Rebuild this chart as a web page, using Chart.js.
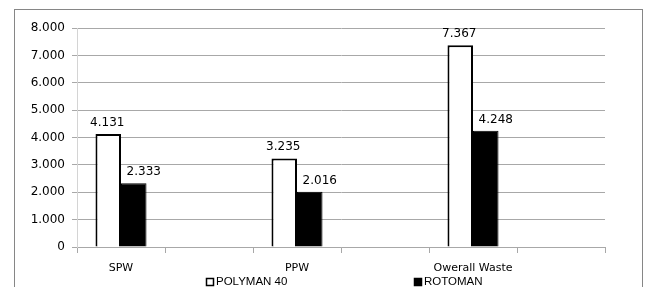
<!DOCTYPE html>
<html>
<head>
<meta charset="utf-8">
<script src="https://cdn.jsdelivr.net/npm/chart.js@4"></script>
<style>
  html, body { margin: 0; padding: 0; background: #fff; }
  canvas { display: block; }
</style>
</head>
<body>
<canvas id="grafico" width="651" height="287"></canvas>
<script>
// datos
const categorias = ['SPW', '', 'PPW', '', 'Owerall Waste', ''];
const serieNombres = ['POLYMAN 40', 'ROTOMAN'];
const polyman = [4131, null, 3235, null, 7367, null];
const rotoman = [2333, null, 2016, null, 4248, null];
const yMin = 0, yMax = 8000, yPaso = 1000;

// 8000 -> "8.000"
function formatear(v) {
  return String(Math.round(v)).replace(/\B(?=(\d{3})+(?!\d))/g, '.');
}

Chart.defaults.font.family = 'DejaVu Sans';
Chart.defaults.font.size = 12;
Chart.defaults.color = '#000';

const gris = '#a8a8a8';

// marco exterior
const marco = {
  id: 'marco',
  beforeDraw(chart) {
    const c = chart.ctx;
    c.save();
    c.strokeStyle = '#868686';
    c.lineWidth = 1;
    c.strokeRect(14.5, 9.5, 628, 300);
    c.restore();
  }
};

// etiquetas de valor encima de las barras
const etiquetas = {
  id: 'etiquetas',
  afterDatasetsDraw(chart) {
    const c = chart.ctx;
    c.save();
    c.font = '12px "DejaVu Sans"';
    c.fillStyle = '#000';
    c.textAlign = 'center';
    c.textBaseline = 'alphabetic';
    chart.data.datasets.forEach((ds, i) => {
      const meta = chart.getDatasetMeta(i);
      meta.data.forEach((bar, j) => {
        const v = ds.data[j];
        if (v == null) return;
        const dx = i === 1 ? 10 : -1;
        c.fillText(formatear(v), bar.x + dx, bar.y - 8);
      });
    });
    c.restore();
  }
};

// leyenda abajo, items muy separados
const leyenda = {
  id: 'leyenda',
  afterDraw(chart) {
    const c = chart.ctx;
    const pos = [206, 414];
    c.save();
    c.font = '11.5px "Liberation Sans"';
    c.textBaseline = 'middle';
    c.textAlign = 'left';
    chart.data.datasets.forEach((ds, i) => {
      const x = pos[i], y = 282;
      c.fillStyle = ds.backgroundColor;
      c.fillRect(x, y - 4, 8, 8);
      c.strokeStyle = '#000';
      c.lineWidth = 1.5;
      c.strokeRect(x + 0.5, y - 3.5, 7, 7);
      c.fillStyle = '#000';
      c.fillText(ds.label, x + 10, y);
    });
    c.restore();
  }
};

new Chart(document.getElementById('grafico'), {
  type: 'bar',
  data: {
    labels: categorias,
    datasets: [{
      label: serieNombres[0],
      data: polyman,
      backgroundColor: '#ffffff',
      borderColor: '#000',
      borderWidth: 2,
      categoryPercentage: 0.58,
      barPercentage: 1
    }, {
      label: serieNombres[1],
      data: rotoman,
      backgroundColor: '#000000',
      borderColor: '#000',
      borderWidth: 1,
      categoryPercentage: 0.58,
      barPercentage: 1
    }]
  },
  options: {
    responsive: false,
    animation: false,
    layout: { padding: { left: 0, right: 46, top: 28, bottom: 0 } },
    plugins: {
      legend: { display: false },
      tooltip: { enabled: false }
    },
    scales: {
      x: {
        grid: {
          offset: true,
          drawOnChartArea: false,
          color: gris,
          tickLength: 6
        },
        border: { display: true, color: gris },
        ticks: {
          font: { size: 11 },
          padding: 9,
          maxRotation: 0,
          autoSkip: false
        },
        afterFit(scale) { scale.height = 40; }
      },
      y: {
        min: yMin,
        max: yMax,
        grid: { color: gris, tickLength: 5 },
        border: { display: true, color: '#d4d4d4' },
        ticks: {
          stepSize: yPaso,
          padding: 7,
          callback: v => formatear(v)
        },
        afterFit(scale) { scale.width = 77; }
      }
    }
  },
  plugins: [marco, etiquetas, leyenda]
});
</script>
</body>
</html>
